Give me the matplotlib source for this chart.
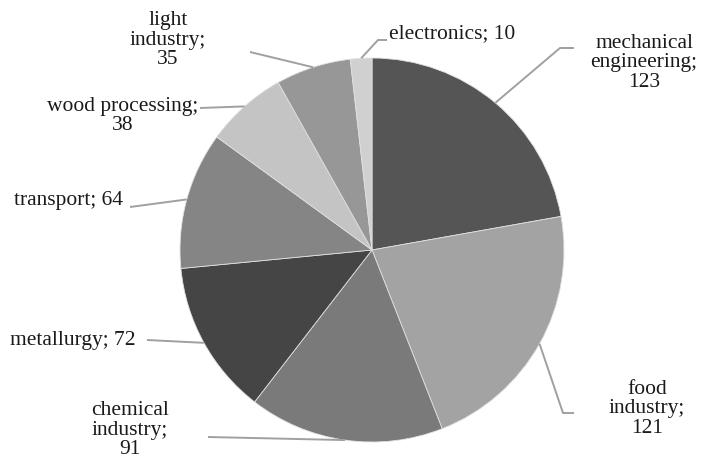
import numpy as np
import matplotlib.pyplot as plt

plt.rcParams['font.family'] = ['Liberation Serif', 'DejaVu Serif']

labels = ['mechanical\nengineering;\n123', 'food\nindustry;\n121', 'chemical\nindustry;\n91',
          'metallurgy; 72', 'transport; 64', 'wood processing;\n38', 'light\nindustry;\n35',
          'electronics; 10']
values = [123, 121, 91, 72, 64, 38, 35, 10]
colors = ['#555555', '#a3a3a3', '#7a7a7a', '#454545', '#858585', '#c4c4c4', '#979797', '#d0d0d0']

# layout in pixels (origin top-left)
W, H = 713, 463
cx, cy, R = 372, 250, 192
text_pos = [(644, 63), (647, 409), (130, 430), (73, 340), (69, 200), (123, 116), (168, 40), (452, 34)]
# leader line points after the pie edge (elbow, end)
leader = [[(560, 48), (574, 48)],
          [(563, 413), (574, 413)],
          [(208, 437)],
          [(147, 340)],
          [(130, 207)],
          [(200, 108)],
          [(250, 52)],
          [(378, 40), (387, 40)]]

fig = plt.figure(figsize=(W / 100, H / 100), dpi=100)
ax = fig.add_axes([0, 0, 1, 1])

wedges, _ = ax.pie(values, colors=colors, startangle=90, counterclock=False,
                   center=(cx, H - cy), radius=R, frame=True,
                   wedgeprops=dict(edgecolor='#e0e0e0', linewidth=0.6))
ax.set_xlim(0, W)
ax.set_ylim(0, H)
ax.set_aspect('auto')
ax.axis('off')

for w, lab, tp, pts in zip(wedges, labels, text_pos, leader):
    ang = np.deg2rad((w.theta1 + w.theta2) / 2)
    ex, ey = cx + R * np.cos(ang), (H - cy) + R * np.sin(ang)
    xs = [ex] + [p[0] for p in pts]
    ys = [ey] + [H - p[1] for p in pts]
    ax.plot(xs, ys, color='#a0a0a0', lw=1.4, solid_capstyle='butt')
    ax.text(tp[0], H - tp[1], lab, ha='center', va='center', multialignment='center',
            fontsize=15.5, linespacing=1.04, color='#1a1a1a')

fig.savefig('out.png', dpi=100)
